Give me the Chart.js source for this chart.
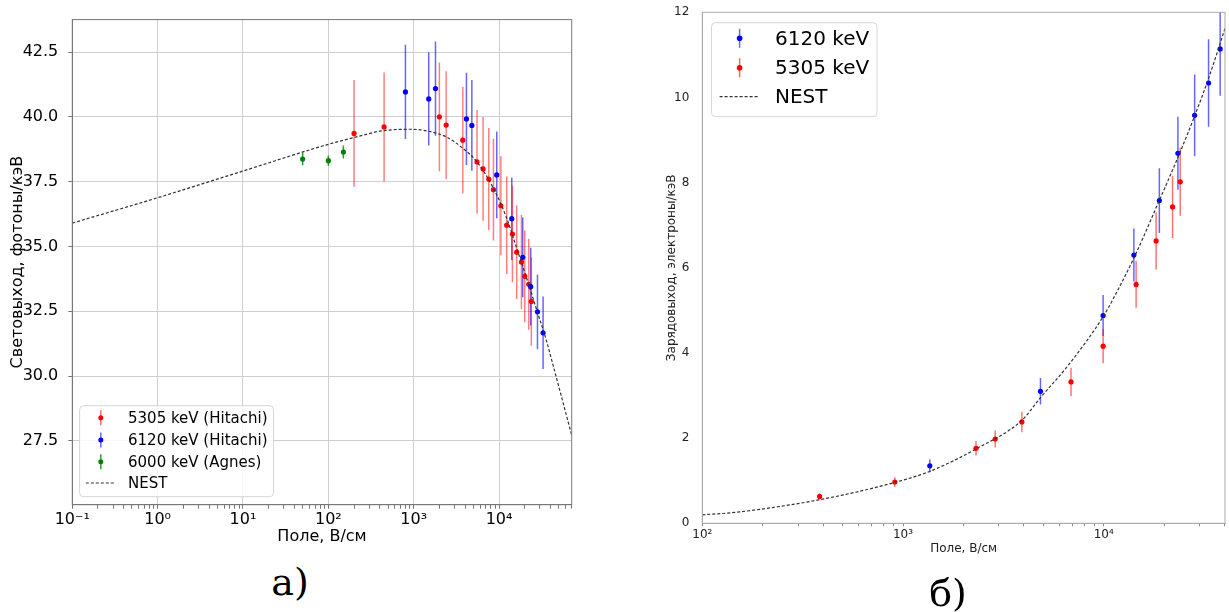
<!DOCTYPE html>
<html>
<head>
<meta charset="utf-8">
<script src="https://cdn.jsdelivr.net/npm/chart.js@4.4.1/dist/chart.umd.min.js"></script>
<style>
  body { margin: 0; background: #fff; width: 1229px; height: 612px; overflow: hidden; position: relative; }
  canvas { position: absolute; top: 0; }
  .panel { position: absolute; width: 100px; text-align: center; font: 38px 'DejaVu Serif'; line-height: 38px; color: #000; }
</style>
</head>
<body>
<canvas id="left" width="600" height="560" style="left:0"></canvas>
<canvas id="right" width="609" height="580" style="left:620px"></canvas>
<div class="panel" style="left:240px; top:563px">а)</div>
<div class="panel" style="left:898px; top:574px">б)</div>
<script>
// ---- panel а: light yield vs field ----
var nestFieldA = [0.1, 1, 10, 100, 300, 400, 900, 1410, 2420, 3790, 5520, 8510, 12200, 16000, 20900, 27400, 35900, 41000, 71000];
var nestLightA = [35.90, 36.88, 37.91, 38.94, 39.35, 39.45, 39.52, 39.46, 39.22, 38.78, 38.26, 37.27, 36.12, 34.96, 33.81, 32.59, 31.37, 30.67, 27.72];

var redFieldA = [200, 450, 2000, 2400, 3760, 5520, 6500, 7580, 8600, 10500, 12300, 14350, 16100, 18300, 20000, 22300, 23900];
var redLightA = [39.36, 39.61, 40.00, 39.68, 39.10, 38.26, 37.99, 37.60, 37.19, 36.57, 35.82, 35.48, 34.78, 34.40, 33.85, 33.54, 32.88];
var redErrA = [2.06, 2.10, 2.10, 2.08, 2.05, 2.00, 2.00, 1.97, 1.96, 1.91, 1.88, 1.86, 1.81, 1.81, 1.77, 1.75, 1.71];

var blueFieldA = [800, 1500, 1800, 4150, 4800, 9400, 14100, 18950, 23500, 28200, 32800];
var blueLightA = [40.96, 40.69, 41.09, 39.92, 39.67, 37.76, 36.07, 34.58, 33.45, 32.48, 31.67];
var blueErrA = [1.82, 1.80, 1.82, 1.78, 1.75, 1.67, 1.59, 1.54, 1.50, 1.44, 1.40];

var greenFieldA = [50, 100, 150];
var greenLightA = [38.37, 38.31, 38.64];
var greenErrA = [0.24, 0.20, 0.25];

var decadesA = [0.1, 1, 10, 100, 1000, 10000];
var decadeLabelsA = ['10⁻¹', '10⁰', '10¹', '10²', '10³', '10⁴'];
var yTicksA = [27.5, 30, 32.5, 35, 37.5, 40, 42.5];

// ---- panel б: charge yield vs field ----
var nestFieldB = [100, 148, 380, 910, 1360, 2340, 3910, 4840, 6680, 9930, 11000, 14100, 18400, 23600, 28400, 33300, 40200];
var nestChargeB = [0.20, 0.26, 0.55, 0.96, 1.22, 1.76, 2.42, 2.95, 3.72, 4.85, 5.22, 6.22, 7.45, 8.63, 9.57, 10.45, 11.62];

var blueFieldB = [1360, 4840, 9930, 14130, 18930, 23420, 28380, 33290, 38030];
var blueChargeB = [1.35, 3.10, 4.88, 6.30, 7.58, 8.69, 9.58, 10.34, 11.14];
var blueErrB = [0.15, 0.31, 0.48, 0.62, 0.76, 0.86, 0.96, 1.03, 1.10];

var redFieldB = [384, 910, 2310, 2880, 3910, 6870, 9930, 14500, 18240, 22030, 24050];
var redChargeB = [0.63, 0.97, 1.76, 1.98, 2.38, 3.32, 4.16, 5.61, 6.63, 7.43, 8.02];
var redErrB = [0.07, 0.11, 0.17, 0.20, 0.24, 0.33, 0.40, 0.55, 0.67, 0.73, 0.80];

var decadesB = [100, 1000, 10000];
var decadeLabelsB = ['10²', '10³', '10⁴'];
var yTicksB = [0, 2, 4, 6, 8, 10, 12];

function pts(xs, ys) {
    return xs.map(function (x, i) { return { x: x, y: ys[i] }; });
}

// decade ticks plus 2..9 minor ticks inside [min, max]
function logTicks(decades, min, max) {
    var out = [];
    decades.forEach(function (d) {
        for (var k = 1; k <= 9; k++) {
            var v = d * k;
            if (v >= min * 0.999 && v <= max) out.push({ value: v, major: k === 1 });
        }
    });
    return out;
}

function isDecade(v, decades) {
    return decades.some(function (d) { return Math.abs(v / d - 1) < 1e-6; });
}

// vertical error bars, drawn under the markers
var errorBars = {
    id: 'errorBars',
    beforeDatasetsDraw: function (chart) {
        var ctx = chart.ctx, area = chart.chartArea;
        var xs = chart.scales.x, ys = chart.scales.y;
        ctx.save();
        ctx.beginPath();
        ctx.rect(area.left, area.top, area.right - area.left, area.bottom - area.top);
        ctx.clip();
        chart.data.datasets.forEach(function (ds) {
            if (!ds.errors) return;
            ctx.strokeStyle = ds.errorColor;
            ctx.lineWidth = 1.5;
            ds.data.forEach(function (p, i) {
                var px = xs.getPixelForValue(p.x);
                ctx.beginPath();
                ctx.moveTo(px, ys.getPixelForValue(p.y - ds.errors[i]));
                ctx.lineTo(px, ys.getPixelForValue(p.y + ds.errors[i]));
                ctx.stroke();
            });
        });
        ctx.restore();
    }
};

// top/right spines
var frame = {
    id: 'frame',
    afterDraw: function (chart, args, opts) {
        var ctx = chart.ctx, a = chart.chartArea;
        ctx.save();
        ctx.strokeStyle = opts.color;
        ctx.lineWidth = 1;
        ctx.strokeRect(a.left, a.top, a.right - a.left, a.bottom - a.top);
        ctx.restore();
    }
};

// matplotlib-like legend box inside the axes
var boxLegend = {
    id: 'boxLegend',
    afterDraw: function (chart, args, o) {
        var ctx = chart.ctx, a = chart.chartArea;
        var left = a.left + o.dx;
        var top = o.fromBottom ? a.bottom - o.dy - o.h : a.top + o.dy;
        ctx.save();
        ctx.beginPath();
        ctx.roundRect(left, top, o.w, o.h, 4);
        ctx.fillStyle = 'rgba(255,255,255,0.85)';
        ctx.fill();
        ctx.strokeStyle = '#d6d6d6';
        ctx.lineWidth = 1;
        ctx.stroke();
        ctx.font = o.fontSize + 'px "DejaVu Sans"';
        ctx.textBaseline = 'middle';
        o.items.forEach(function (it, i) {
            var cy = top + o.rows[i];
            var cx = left + o.iconX;
            if (it.dash) {
                ctx.strokeStyle = '#333';
                ctx.lineWidth = 1.2;
                ctx.setLineDash([3, 2]);
                ctx.beginPath();
                ctx.moveTo(cx - o.dashW / 2, cy);
                ctx.lineTo(cx + o.dashW / 2, cy);
                ctx.stroke();
                ctx.setLineDash([]);
            } else {
                ctx.strokeStyle = it.bar;
                ctx.lineWidth = 1.5;
                ctx.beginPath();
                ctx.moveTo(cx, cy - o.barH / 2);
                ctx.lineTo(cx, cy + o.barH / 2);
                ctx.stroke();
                ctx.fillStyle = it.color;
                ctx.beginPath();
                ctx.arc(cx, cy, o.dot, 0, Math.PI * 2);
                ctx.fill();
            }
            ctx.fillStyle = '#000';
            ctx.fillText(it.label, left + o.textX, cy + 1);
        });
        ctx.restore();
    }
};

function markerSet(label, xs, ys, errs, color, barColor) {
    return {
        label: label,
        data: pts(xs, ys),
        errors: errs,
        errorColor: barColor,
        showLine: false,
        pointRadius: 2.6,
        pointBorderWidth: 0,
        pointBackgroundColor: color,
        borderColor: color
    };
}

function nestSet(xs, ys) {
    return {
        label: 'NEST',
        data: pts(xs, ys),
        showLine: true,
        borderColor: '#333',
        borderWidth: 1.2,
        borderDash: [3, 2],
        pointRadius: 0,
        cubicInterpolationMode: 'monotone'
    };
}

// ---------- chart а ----------
new Chart(document.getElementById('left').getContext('2d'), {
    type: 'scatter',
    data: {
        datasets: [
            nestSet(nestFieldA, nestLightA),
            markerSet('6000 keV (Agnes)', greenFieldA, greenLightA, greenErrA, '#008000', 'rgba(0,128,0,0.8)'),
            markerSet('6120 keV (Hitachi)', blueFieldA, blueLightA, blueErrA, '#0000ff', 'rgba(0,0,255,0.6)'),
            markerSet('5305 keV (Hitachi)', redFieldA, redLightA, redErrA, '#ff0000', 'rgba(255,0,0,0.5)')
        ]
    },
    options: {
        responsive: false,
        animation: false,
        devicePixelRatio: 1,
        layout: { padding: { left: 0, top: 18.3, right: 28.3, bottom: 0.3 } },
        scales: {
            x: {
                type: 'logarithmic',
                min: 0.1,
                max: 71000,
                afterBuildTicks: function (s) { s.ticks = logTicks(decadesA, 0.1, 71000); },
                afterFit: function (s) { s.height = 55; },
                border: { color: '#777' },
                grid: {
                    color: function (c) { return c.tick && isDecade(c.tick.value, decadesA) ? '#cfcfcf' : 'rgba(0,0,0,0)'; },
                    tickColor: '#777',
                    tickLength: 4
                },
                ticks: {
                    autoSkip: false,
                    maxRotation: 0,
                    padding: 2,
                    color: '#000',
                    font: { family: 'DejaVu Sans', size: 16 },
                    callback: function (v) {
                        var i = decadesA.findIndex(function (d) { return Math.abs(v / d - 1) < 1e-6; });
                        return i >= 0 ? decadeLabelsA[i] : '';
                    }
                },
                title: {
                    display: true,
                    text: 'Поле, В/см',
                    color: '#000',
                    font: { family: 'DejaVu Sans', size: 16 },
                    padding: { top: 0, bottom: 13.6 }
                }
            },
            y: {
                min: 25.04,
                max: 43.75,
                afterBuildTicks: function (s) { s.ticks = yTicksA.map(function (v) { return { value: v }; }); },
                afterFit: function (s) { s.width = 72.3; },
                border: { color: '#777' },
                grid: { color: '#cfcfcf', tickColor: '#777', tickLength: 4 },
                ticks: {
                    padding: 10,
                    color: '#000',
                    font: { family: 'DejaVu Sans', size: 16 },
                    callback: function (v) { return v.toFixed(1); }
                },
                title: {
                    display: true,
                    text: 'Световыход, фотоны/кэВ',
                    color: '#000',
                    font: { family: 'DejaVu Sans', size: 16 },
                    padding: { top: 8, bottom: 0 }
                }
            }
        },
        plugins: {
            legend: { display: false },
            tooltip: { enabled: false },
            frame: { color: '#777' },
            boxLegend: {
                fromBottom: true, dx: 7.3, dy: 8, w: 194, h: 91,
                rows: [12, 34.3, 56, 77.3], iconX: 21.2, textX: 48.4,
                fontSize: 15, barH: 15, dot: 2.5, dashW: 30,
                items: [
                    { label: '5305 keV (Hitachi)', color: '#ff0000', bar: 'rgba(255,0,0,0.6)' },
                    { label: '6120 keV (Hitachi)', color: '#0000ff', bar: 'rgba(0,0,255,0.6)' },
                    { label: '6000 keV (Agnes)', color: '#008000', bar: 'rgba(0,128,0,0.8)' },
                    { label: 'NEST', dash: true }
                ]
            }
        }
    },
    plugins: [errorBars, frame, boxLegend]
});

// ---------- chart б ----------
new Chart(document.getElementById('right').getContext('2d'), {
    type: 'scatter',
    data: {
        datasets: [
            nestSet(nestFieldB, nestChargeB),
            markerSet('6120 keV', blueFieldB, blueChargeB, blueErrB, '#0000ff', 'rgba(0,0,255,0.6)'),
            markerSet('5305 keV', redFieldB, redChargeB, redErrB, '#ff0000', 'rgba(255,0,0,0.55)')
        ]
    },
    options: {
        responsive: false,
        animation: false,
        devicePixelRatio: 1,
        layout: { padding: { left: 0, top: 12.3, right: 2.3, bottom: 0 } },
        scales: {
            x: {
                type: 'logarithmic',
                min: 100,
                max: 40200,
                afterBuildTicks: function (s) { s.ticks = logTicks(decadesB, 100, 40200); },
                afterFit: function (s) { s.height = 56.7; },
                border: { color: '#aaa' },
                grid: { drawOnChartArea: false, color: '#888', tickColor: '#888', tickLength: 3 },
                ticks: {
                    autoSkip: false,
                    maxRotation: 0,
                    padding: 1,
                    color: '#222',
                    font: { family: 'DejaVu Sans', size: 12 },
                    callback: function (v) {
                        var i = decadesB.findIndex(function (d) { return Math.abs(v / d - 1) < 1e-6; });
                        return i >= 0 ? decadeLabelsB[i] : '';
                    }
                },
                title: {
                    display: true,
                    text: 'Поле, В/см',
                    color: '#222',
                    font: { family: 'DejaVu Sans', size: 12 },
                    padding: { top: 0, bottom: 24.3 }
                }
            },
            y: {
                min: 0,
                max: 12,
                afterBuildTicks: function (s) { s.ticks = yTicksB.map(function (v) { return { value: v }; }); },
                afterFit: function (s) { s.width = 82.3; },
                border: { color: '#aaa' },
                grid: { display: false },
                ticks: {
                    padding: 5,
                    color: '#222',
                    font: { family: 'DejaVu Sans', size: 12 }
                },
                title: {
                    display: true,
                    text: 'Зарядовыход, электроны/кэВ',
                    color: '#222',
                    font: { family: 'DejaVu Sans', size: 12 },
                    padding: { top: 44.5, bottom: 0 }
                }
            }
        },
        plugins: {
            legend: { display: false },
            tooltip: { enabled: false },
            frame: { color: '#aaa' },
            boxLegend: {
                fromBottom: false, dx: 9.2, dy: 10.4, w: 165.5, h: 94,
                rows: [15.6, 45, 74], iconX: 28.1, textX: 63.5,
                fontSize: 20, barH: 19, dot: 2.8, dashW: 40,
                items: [
                    { label: '6120 keV', color: '#0000ff', bar: 'rgba(0,0,255,0.6)' },
                    { label: '5305 keV', color: '#ff0000', bar: 'rgba(255,0,0,0.6)' },
                    { label: 'NEST', dash: true }
                ]
            }
        }
    },
    plugins: [errorBars, frame, boxLegend]
});
</script>
</body>
</html>
